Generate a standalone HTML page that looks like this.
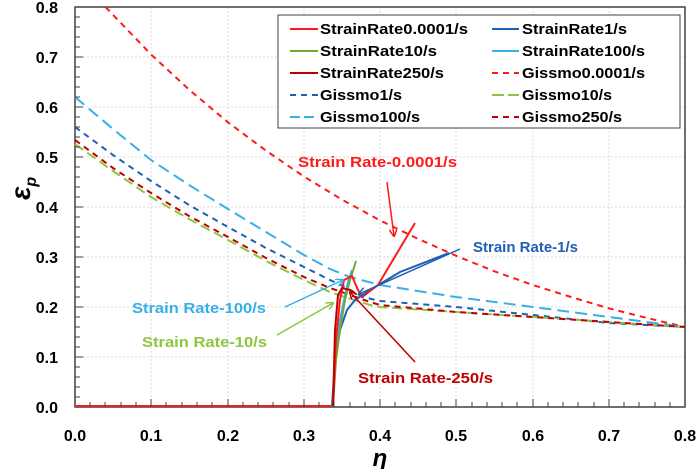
<!DOCTYPE html>
<html><head><meta charset="utf-8"><style>
body{margin:0;background:#fff}
text{font-family:"Liberation Sans",sans-serif;font-weight:bold}
</style></head><body>
<svg width="700" height="469" xmlns="http://www.w3.org/2000/svg">
<defs>
<marker id="ar" markerWidth="8" markerHeight="8" refX="7" refY="4" orient="auto" markerUnits="userSpaceOnUse"><path d="M0,0 L8,4 L0,8" fill="none" stroke="context-stroke" stroke-width="1.5"/></marker>
</defs>
<g stroke="#d9d9d9" stroke-dasharray="2,2" stroke-width="1">
<line x1="75" y1="57" x2="685" y2="57"/><line x1="75" y1="107" x2="685" y2="107"/><line x1="75" y1="157" x2="685" y2="157"/><line x1="75" y1="207" x2="685" y2="207"/><line x1="75" y1="257" x2="685" y2="257"/><line x1="75" y1="307" x2="685" y2="307"/><line x1="75" y1="357" x2="685" y2="357"/>
<line x1="151" y1="7" x2="151" y2="407"/><line x1="228" y1="7" x2="228" y2="407"/><line x1="304" y1="7" x2="304" y2="407"/><line x1="380" y1="7" x2="380" y2="407"/><line x1="456" y1="7" x2="456" y2="407"/><line x1="533" y1="7" x2="533" y2="407"/><line x1="609" y1="7" x2="609" y2="407"/>
</g>
<rect x="75" y="7" width="610" height="400" fill="none" stroke="#404040" stroke-width="1.5"/>
<g font-size="16" fill="#000" text-anchor="end">
<text x="58" y="13">0.8</text><text x="58" y="63">0.7</text><text x="58" y="113">0.6</text><text x="58" y="163">0.5</text><text x="58" y="213">0.4</text><text x="58" y="263">0.3</text><text x="58" y="313">0.2</text><text x="58" y="363">0.1</text><text x="58" y="413">0.0</text>
</g>
<g font-size="16" fill="#000" text-anchor="middle">
<text x="75" y="441">0.0</text><text x="151" y="441">0.1</text><text x="228" y="441">0.2</text><text x="304" y="441">0.3</text><text x="380" y="441">0.4</text><text x="456" y="441">0.5</text><text x="533" y="441">0.6</text><text x="609" y="441">0.7</text><text x="685" y="441">0.8</text>
</g>
<text x="380" y="466" font-size="24" font-style="italic" font-family="Liberation Serif" font-weight="normal" text-anchor="middle">η</text>
<text x="30" y="200" font-size="28" font-style="italic" font-family="Liberation Serif" font-weight="normal" transform="rotate(-90 30 200)">ε<tspan font-size="16" dy="6">p</tspan></text>
<g fill="none" stroke-width="2" stroke-dasharray="6,5">
<polyline stroke="#ff1a1a" points="105.5,7 151.3,54.7 189.5,90 227.6,122 265.8,150.5 303.9,176.5 342,199.6 380.2,220.5 418.4,239 456.5,256 494.7,271.4 532.8,285 571,297 609,308.4 647,318 685,327"/>
<polyline stroke="#1f5fb5" points="75,127 113,155 151,181 189,205 228,227 266,248 304,267 330,280 345,287 363,297 380,301 456,307 533,315 609,323 685,327"/>
<polyline stroke="#36b0e8" stroke-dasharray="12,6" points="75,97 113,129 151,160 189,185 228,209 266,232 304,255 330,269 350,277 380,285 456,297 533,307 609,317 685,327"/>
<polyline stroke="#8cc63e" stroke-dasharray="10,5" points="75,144 113,171 151,197 189,219 228,240 266,261 304,280 330,292 345,297 370,305 380,307 456,312 533,317 609,322 685,327"/>
<polyline stroke="#c00000" points="75,140 113,168 151,193 189,216 228,237 266,258 304,277 330,288 350,295 370,302 380,305 456,312 533,317 609,322 685,327"/>
</g>
<g fill="none" stroke-width="2">
<polyline stroke="#ff1a1a" points="75,406 331,406"/>
<polyline stroke="#1f5fb5" points="332,406 335,360 340,330 347,310 355,300 370,290 400,272 449,253"/>
<polyline stroke="#36b0e8" points="333,406 336,350 340,320 344,300 348,282 352,270"/>
<polyline stroke="#6fa832" points="333,406 336,360 340,330 345,300 350,280 356,261"/>
<polyline stroke="#ff1a1a" points="333,406 336,340 340,300 344,280 352,276 358,290 362,297 378,285 415,223"/>
<polyline stroke="#c00000" points="333,406 335,330 338,295 342,288 350,290 356,294"/>
</g>
<g stroke-width="1.5" fill="none">
<line x1="387" y1="182" x2="394" y2="236" stroke="#ff1a1a" marker-end="url(#ar)"/>
<line x1="460" y1="249" x2="359" y2="294" stroke="#1f5fb5" marker-end="url(#ar)"/>
<line x1="285" y1="307" x2="343" y2="280" stroke="#36b0e8" marker-end="url(#ar)"/>
<line x1="277" y1="335" x2="333" y2="303" stroke="#8cc63e" marker-end="url(#ar)"/>
<line x1="415" y1="362" x2="350" y2="292" stroke="#c00000" marker-end="url(#ar)"/>
</g>
<g font-size="15" lengthAdjust="spacingAndGlyphs">
<text x="298" y="167" fill="#ff1a1a" textLength="159" lengthAdjust="spacingAndGlyphs">Strain Rate-0.0001/s</text>
<text x="473" y="252" fill="#1f5fb5" textLength="105" lengthAdjust="spacingAndGlyphs">Strain Rate-1/s</text>
<text x="132" y="313" fill="#36b0e8" textLength="134" lengthAdjust="spacingAndGlyphs">Strain Rate-100/s</text>
<text x="142" y="347" fill="#8cc63e" textLength="125" lengthAdjust="spacingAndGlyphs">Strain Rate-10/s</text>
<text x="358" y="383" fill="#c00000" textLength="135" lengthAdjust="spacingAndGlyphs">Strain Rate-250/s</text>
</g>
<rect x="278" y="15" width="402" height="113" fill="#fff" stroke="#404040" stroke-width="1"/>
<g stroke-width="2">
<line x1="290" y1="29" x2="318" y2="29" stroke="#ff1a1a"/>
<line x1="290" y1="51" x2="318" y2="51" stroke="#6fa832"/>
<line x1="290" y1="73" x2="318" y2="73" stroke="#c00000"/>
<line x1="290" y1="95" x2="318" y2="95" stroke="#1f5fb5" stroke-dasharray="6,5"/>
<line x1="290" y1="117" x2="318" y2="117" stroke="#36b0e8" stroke-dasharray="10,4"/>
<line x1="492" y1="29" x2="519" y2="29" stroke="#1f5fb5"/>
<line x1="492" y1="51" x2="519" y2="51" stroke="#36b0e8"/>
<line x1="492" y1="73" x2="519" y2="73" stroke="#ff1a1a" stroke-dasharray="6,5"/>
<line x1="492" y1="95" x2="519" y2="95" stroke="#8cc63e" stroke-dasharray="12,4"/>
<line x1="492" y1="117" x2="519" y2="117" stroke="#c00000" stroke-dasharray="6,5"/>
</g>
<g font-size="15" fill="#000">
<text x="320" y="34" textLength="148" lengthAdjust="spacingAndGlyphs">StrainRate0.0001/s</text>
<text x="320" y="56" textLength="117" lengthAdjust="spacingAndGlyphs">StrainRate10/s</text>
<text x="320" y="78" textLength="124" lengthAdjust="spacingAndGlyphs">StrainRate250/s</text>
<text x="320" y="100" textLength="82" lengthAdjust="spacingAndGlyphs">Gissmo1/s</text>
<text x="320" y="122" textLength="100" lengthAdjust="spacingAndGlyphs">Gissmo100/s</text>
<text x="522" y="34" textLength="105" lengthAdjust="spacingAndGlyphs">StrainRate1/s</text>
<text x="522" y="56" textLength="123" lengthAdjust="spacingAndGlyphs">StrainRate100/s</text>
<text x="522" y="78" textLength="123" lengthAdjust="spacingAndGlyphs">Gissmo0.0001/s</text>
<text x="522" y="100" textLength="90" lengthAdjust="spacingAndGlyphs">Gissmo10/s</text>
<text x="522" y="122" textLength="100" lengthAdjust="spacingAndGlyphs">Gissmo250/s</text>
</g>
<g stroke="#404040" stroke-width="1">
<path d="M75,17h5M75,27h5M75,37h5M75,47h5M75,57h8M75,67h5M75,77h5M75,87h5M75,97h5M75,107h8M75,117h5M75,127h5M75,137h5M75,147h5M75,157h8M75,167h5M75,177h5M75,187h5M75,197h5M75,207h8M75,217h5M75,227h5M75,237h5M75,247h5M75,257h8M75,267h5M75,277h5M75,287h5M75,297h5M75,307h8M75,317h5M75,327h5M75,337h5M75,347h5M75,357h8M75,367h5M75,377h5M75,387h5M75,397h5"/>
<path d="M90,407v-5M105,407v-5M121,407v-5M136,407v-5M151,407v-8M166,407v-5M182,407v-5M197,407v-5M212,407v-5M228,407v-8M243,407v-5M258,407v-5M273,407v-5M289,407v-5M304,407v-8M319,407v-5M334,407v-5M350,407v-5M365,407v-5M380,407v-8M395,407v-5M411,407v-5M426,407v-5M441,407v-5M456,407v-8M472,407v-5M487,407v-5M502,407v-5M517,407v-5M533,407v-8M548,407v-5M563,407v-5M578,407v-5M594,407v-5M609,407v-8M624,407v-5M639,407v-5M655,407v-5M670,407v-5"/>
</g>
</svg>
</body></html>
